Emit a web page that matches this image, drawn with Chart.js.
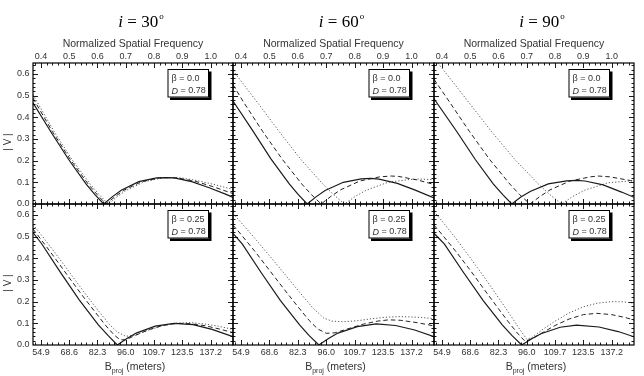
<!DOCTYPE html>
<html><head><meta charset="utf-8">
<script src="https://cdn.jsdelivr.net/npm/chart.js@4.4.0/dist/chart.umd.min.js"></script>
<style>
html,body{margin:0;padding:0;background:#fff;}
#wrap{position:relative;width:644px;height:376px;overflow:hidden;background:#fff;}
#wrap canvas{position:absolute;left:0;top:0;}
.t{position:absolute;white-space:nowrap;font-family:"Liberation Sans",Arial,sans-serif;color:#333;transform:translate(-50%,-50%);line-height:1;}
.ttl{font-family:"Liberation Serif","Times New Roman",serif;font-size:17px;color:#000;}
.ttl sup{font-size:9px;vertical-align:8px;margin-left:1px;}
</style></head>
<body><div id="wrap"></div>
<script>
// ---------------- data ----------------
const INCLINATIONS = ['30', '60', '90'];
const BETAS = ['0.0', '0.25'];
const FREQ_TICKS = [0.4, 0.5, 0.6, 0.7, 0.8, 0.9, 1.0];
const BASELINE_LABELS = ['54.9', '68.6', '82.3', '96.0', '109.7', '123.5', '137.2'];
const V_TICKS = [0.0, 0.1, 0.2, 0.3, 0.4, 0.5, 0.6];
const F_MIN = 0.372, F_MAX = 1.079, V_MIN = 0, V_MAX = 0.65;

// [normalized spatial frequency, |V|]
const i30_b00_solid = [[0.372,0.466],[0.435,0.333],[0.498,0.205],[0.560,0.092],[0.591,0.043],[0.622,0],[0.653,0.034],[0.684,0.063],[0.746,0.103],[0.809,0.120],[0.840,0.122],[0.871,0.120],[0.933,0.103],[0.995,0.075],[1.057,0.043],[1.079,0.030]];
const i30_b00_dash  = [[0.372,0.488],[0.441,0.333],[0.504,0.205],[0.567,0.092],[0.599,0.043],[0.630,0],[0.662,0.034],[0.693,0.063],[0.756,0.103],[0.819,0.120],[0.851,0.122],[0.882,0.120],[0.945,0.105],[1.008,0.080],[1.079,0.048]];
const i30_b00_dot   = [[0.372,0.504],[0.447,0.333],[0.510,0.205],[0.574,0.092],[0.606,0.043],[0.638,0],[0.670,0.034],[0.702,0.063],[0.766,0.103],[0.829,0.120],[0.861,0.122],[0.893,0.121],[0.957,0.107],[1.021,0.087],[1.079,0.067]];

const i60_b00_solid = [[0.372,0.475],[0.443,0.335],[0.506,0.207],[0.570,0.093],[0.601,0.044],[0.633,0],[0.665,0.034],[0.696,0.062],[0.760,0.100],[0.823,0.116],[0.855,0.118],[0.886,0.115],[0.950,0.095],[1.013,0.064],[1.079,0.028]];
const i60_b00_dash  = [[0.372,0.550],[0.409,0.470],[0.477,0.333],[0.546,0.205],[0.614,0.092],[0.648,0.043],[0.682,0],[0.716,0.035],[0.750,0.065],[0.818,0.106],[0.887,0.125],[0.929,0.129],[0.955,0.127],[1.023,0.110],[1.079,0.090]];
const i60_b00_dot   = [[0.372,0.615],[0.458,0.468],[0.535,0.333],[0.611,0.205],[0.688,0.092],[0.726,0.043],[0.764,0],[0.802,0.035],[0.840,0.063],[0.917,0.100],[0.993,0.113],[1.031,0.115],[1.079,0.112]];

const i90_b00_solid = [[0.372,0.485],[0.453,0.333],[0.518,0.205],[0.582,0.092],[0.615,0.043],[0.647,0],[0.679,0.032],[0.712,0.058],[0.776,0.093],[0.841,0.107],[0.873,0.109],[0.906,0.106],[0.970,0.088],[1.035,0.055],[1.079,0.031]];
const i90_b00_dash  = [[0.372,0.575],[0.427,0.470],[0.498,0.333],[0.569,0.205],[0.640,0.092],[0.675,0.043],[0.711,0],[0.747,0.035],[0.782,0.065],[0.853,0.106],[0.924,0.125],[0.952,0.129],[0.995,0.125],[1.067,0.108],[1.079,0.105]];
const i90_b00_dot   = [[0.372,0.672],[0.412,0.607],[0.494,0.470],[0.576,0.333],[0.658,0.205],[0.741,0.092],[0.782,0.043],[0.823,0],[0.864,0.036],[0.905,0.064],[0.988,0.098],[1.070,0.107],[1.079,0.107]];

const i30_b25_solid = [[0.372,0.518],[0.402,0.468],[0.469,0.335],[0.536,0.207],[0.603,0.093],[0.637,0.044],[0.670,0],[0.704,0.030],[0.737,0.055],[0.804,0.087],[0.871,0.100],[0.938,0.094],[1.005,0.072],[1.079,0.038]];
const i30_b25_dash  = [[0.372,0.535],[0.40,0.487],[0.45,0.400],[0.50,0.310],[0.55,0.222],[0.60,0.138],[0.63,0.088],[0.66,0.045],[0.68,0.024],[0.70,0.024],[0.73,0.042],[0.78,0.070],[0.83,0.090],[0.88,0.100],[0.93,0.098],[0.98,0.089],[1.03,0.074],[1.079,0.057]];
const i30_b25_dot   = [[0.372,0.555],[0.40,0.510],[0.45,0.425],[0.50,0.337],[0.55,0.248],[0.60,0.163],[0.64,0.098],[0.67,0.060],[0.70,0.040],[0.73,0.045],[0.78,0.068],[0.83,0.089],[0.88,0.101],[0.93,0.103],[0.98,0.097],[1.03,0.086],[1.079,0.072]];

const i60_b25_solid = [[0.372,0.515],[0.405,0.465],[0.472,0.332],[0.539,0.205],[0.607,0.092],[0.640,0.043],[0.674,0],[0.708,0.030],[0.741,0.055],[0.809,0.085],[0.876,0.097],[0.944,0.090],[1.011,0.069],[1.079,0.038]];
const i60_b25_dash  = [[0.372,0.553],[0.40,0.510],[0.45,0.430],[0.50,0.345],[0.55,0.260],[0.60,0.177],[0.64,0.113],[0.67,0.074],[0.70,0.054],[0.73,0.056],[0.78,0.076],[0.83,0.096],[0.88,0.110],[0.92,0.116],[0.96,0.114],[1.02,0.103],[1.079,0.088]];
const i60_b25_dot   = [[0.372,0.607],[0.40,0.565],[0.45,0.490],[0.50,0.412],[0.55,0.333],[0.60,0.253],[0.65,0.175],[0.69,0.125],[0.72,0.110],[0.76,0.107],[0.81,0.112],[0.86,0.121],[0.91,0.128],[0.96,0.131],[1.02,0.128],[1.079,0.122]];

const i90_b25_solid = [[0.372,0.515],[0.409,0.465],[0.477,0.333],[0.546,0.205],[0.614,0.092],[0.648,0.043],[0.682,0],[0.716,0.028],[0.750,0.052],[0.818,0.082],[0.876,0.092],[0.955,0.083],[1.023,0.062],[1.079,0.038]];
const i90_b25_dash  = [[0.372,0.553],[0.40,0.510],[0.45,0.430],[0.50,0.345],[0.55,0.255],[0.60,0.167],[0.64,0.098],[0.67,0.050],[0.694,0.017],[0.72,0.030],[0.76,0.060],[0.80,0.090],[0.85,0.120],[0.90,0.140],[0.947,0.146],[1.00,0.140],[1.05,0.126],[1.079,0.115]];
const i90_b25_dot   = [[0.372,0.615],[0.40,0.572],[0.45,0.490],[0.50,0.402],[0.55,0.312],[0.60,0.218],[0.64,0.142],[0.67,0.082],[0.70,0.026],[0.72,0.036],[0.76,0.075],[0.80,0.110],[0.85,0.148],[0.90,0.176],[0.95,0.193],[1.00,0.200],[1.04,0.199],[1.079,0.193]];

const PANELS = [
  [[i30_b00_solid, i30_b00_dash, i30_b00_dot], [i60_b00_solid, i60_b00_dash, i60_b00_dot], [i90_b00_solid, i90_b00_dash, i90_b00_dot]],
  [[i30_b25_solid, i30_b25_dash, i30_b25_dot], [i60_b25_solid, i60_b25_dash, i60_b25_dot], [i90_b25_solid, i90_b25_dash, i90_b25_dot]]
];

// ---------------- layout / style ----------------
const W = 644, H = 376;
const COLS = [[33, 233], [233, 434], [434, 634]];
const ROWS = [[63, 204], [204, 345]];
const AXW = 30, AXH = 18;   // fixed room given to the tick-label boxes
const STYLES = [
  {color: '#1a1a1a', width: 1.2, dash: []},
  {color: '#222', width: 1.0, dash: [4.5, 3]},
  {color: '#555', width: 1.0, dash: [1.2, 2]}
];
const FONT = {family: '"Liberation Sans", Arial, sans-serif', size: 9};
const TXT = '#333';

const wrap = document.getElementById('wrap');

function addText(html, cx, cy, cls, extra) {
  const d = document.createElement('div');
  d.className = 't ' + (cls || '');
  d.innerHTML = html;
  d.style.left = cx + 'px';
  d.style.top = cy + 'px';
  if (extra) Object.assign(d.style, extra);
  wrap.appendChild(d);
  return d;
}

function fixV(s) { s.width = AXW; s.paddingLeft = s.paddingRight = s.paddingTop = s.paddingBottom = 0; }
function fixH(s) { s.height = AXH; s.paddingLeft = s.paddingRight = s.paddingTop = s.paddingBottom = 0; }

const framePlugin = {
  id: 'frame',
  afterDatasetsDraw(chart, args, opts) {
    const {ctx, chartArea: a} = chart;
    const x = chart.scales.x, y = chart.scales.y;
    ctx.save();
    ctx.strokeStyle = '#000';
    ctx.lineWidth = 0.9;
    ctx.beginPath();
    for (let k = 19; k <= 53; k++) {           // every 0.02 in frequency
      const v = k / 50;
      const px = Math.round(x.getPixelForValue(v)) + 0.5;
      const L = (k % 5 === 0) ? 5 : 2.5;
      ctx.moveTo(px, a.top); ctx.lineTo(px, a.top + L);
      ctx.moveTo(px, a.bottom); ctx.lineTo(px, a.bottom - L);
    }
    for (let k = 1; k <= 32; k++) {            // every 0.02 in |V|
      const v = k / 50;
      const py = Math.round(y.getPixelForValue(v)) + 0.5;
      const L = (k % 5 === 0) ? 5 : 2.5;
      ctx.moveTo(a.left, py); ctx.lineTo(a.left + L, py);
      ctx.moveTo(a.right, py); ctx.lineTo(a.right - L, py);
    }
    ctx.stroke();
    ctx.lineWidth = 1.2;
    ctx.strokeRect(a.left, a.top, a.right - a.left, a.bottom - a.top);

    // inset label box with drop shadow
    const bx = a.right - 65.5, by = a.top + 6, bw = 41.5, bh = 28.5;
    ctx.fillStyle = '#000';
    ctx.fillRect(bx + 2.5, by + 2.5, bw, bh);
    ctx.fillStyle = '#fff';
    ctx.fillRect(bx, by, bw, bh);
    ctx.lineWidth = 1;
    ctx.strokeRect(bx + 0.5, by + 0.5, bw - 1, bh - 1);
    ctx.fillStyle = TXT;
    ctx.textBaseline = 'middle';
    ctx.textAlign = 'left';
    ctx.font = '9px "Liberation Sans", Arial, sans-serif';
    ctx.fillText('\u03B2 = ' + opts.beta, bx + 4, by + 9.5);
    ctx.font = 'italic 9px "Liberation Sans", Arial, sans-serif';
    ctx.fillText('D', bx + 4, by + 22);
    const dw = ctx.measureText('D').width;
    ctx.font = '9px "Liberation Sans", Arial, sans-serif';
    ctx.fillText(' = 0.78', bx + 4 + dw, by + 22);
    ctx.restore();
  }
};

for (let ri = 0; ri < 2; ri++) {
  for (let ci = 0; ci < 3; ci++) {
    const [x0, x1] = COLS[ci], [y0, y1] = ROWS[ri];
    const cv = document.createElement('canvas');
    cv.width = W; cv.height = H;
    cv.style.width = W + 'px'; cv.style.height = H + 'px';
    wrap.appendChild(cv);
    const series = PANELS[ri][ci];
    new Chart(cv, {
      type: 'line',
      data: {
        datasets: series.map((pts, k) => ({
          data: pts.map(p => ({x: p[0], y: p[1]})),
          borderColor: STYLES[k].color,
          borderWidth: STYLES[k].width,
          borderDash: STYLES[k].dash,
          pointRadius: 0,
          tension: 0,
          fill: false
        }))
      },
      options: {
        responsive: false, animation: false, devicePixelRatio: 1,
        layout: {padding: {left: x0 - AXW, top: y0 - AXH, right: W - x1, bottom: H - y1 - AXH}},
        plugins: {legend: {display: false}, tooltip: {enabled: false}, frame: {beta: BETAS[ri]}},
        scales: {
          x: {
            type: 'linear', position: 'bottom', min: F_MIN, max: F_MAX,
            grid: {display: false, drawTicks: false}, border: {display: false},
            afterBuildTicks: s => { s.ticks = FREQ_TICKS.map(v => ({value: v})); },
            afterFit: fixH,
            ticks: {display: ri === 1, padding: 2, font: FONT, color: TXT, autoSkip: false, maxRotation: 0, minRotation: 0,
                    callback: (v, i) => BASELINE_LABELS[i]}
          },
          xTop: {
            type: 'linear', position: 'top', min: F_MIN, max: F_MAX,
            grid: {display: false, drawTicks: false}, border: {display: false},
            afterBuildTicks: s => { s.ticks = FREQ_TICKS.map(v => ({value: v})); },
            afterFit: fixH,
            ticks: {display: ri === 0, padding: 1.5, font: FONT, color: TXT, autoSkip: false, maxRotation: 0, minRotation: 0,
                    callback: v => v.toFixed(1)}
          },
          y: {
            type: 'linear', position: 'left', min: V_MIN, max: V_MAX,
            grid: {display: false, drawTicks: false}, border: {display: false},
            afterBuildTicks: s => { s.ticks = V_TICKS.map(v => ({value: v})); },
            afterFit: fixV,
            ticks: {display: ci === 0, padding: 3.5, font: FONT, color: TXT, callback: v => v.toFixed(1)}
          }
        }
      },
      plugins: [framePlugin]
    });
  }
}

// titles and axis labels
for (let ci = 0; ci < 3; ci++) {
  const cx = (COLS[ci][0] + COLS[ci][1]) / 2;
  addText('<i>i</i> = ' + INCLINATIONS[ci] + '<sup>o</sup>', cx + 8, 21, 'ttl');
  addText('Normalized Spatial Frequency', cx, 43, '', {fontSize: '10.5px'});
  addText('B<sub style="font-size:7px;vertical-align:-3px">proj</sub> (meters)', cx + 2, 367, '', {fontSize: '10.5px'});
}
for (let ri = 0; ri < 2; ri++) {
  const cy = (ROWS[ri][0] + ROWS[ri][1]) / 2 + 8;
  addText('| V |', 8, cy, '', {fontSize: '10px', transform: 'translate(-50%,-50%) rotate(-90deg)'});
}
</script>
</body></html>
